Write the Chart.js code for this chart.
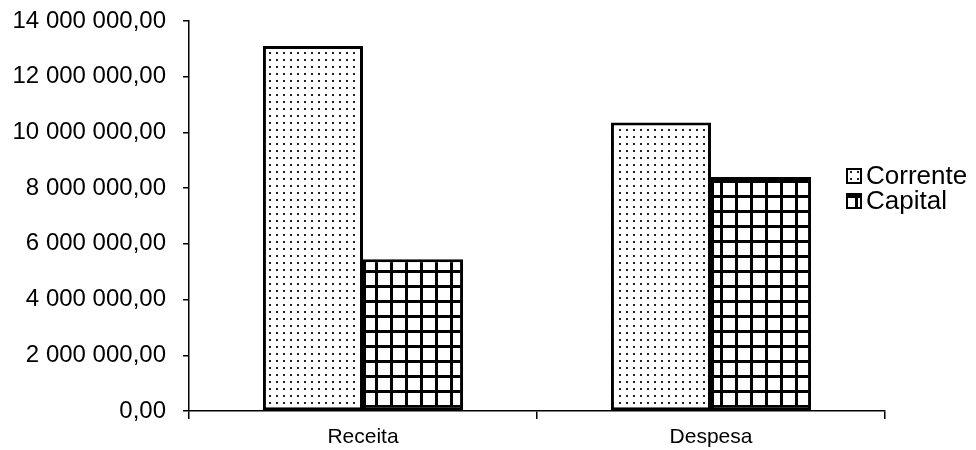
<!DOCTYPE html>
<html><head><meta charset="utf-8">
<script src="https://cdn.jsdelivr.net/npm/chart.js@4"></script>
<style>html,body{margin:0;padding:0;background:#fff;}#wrap{width:976px;height:450px;position:relative;}</style>
</head><body><div id="wrap"><canvas id="c" width="976" height="450"></canvas></div>
<script>
const categories = ["Receita", "Despesa"];
const seriesNames = ["Corrente", "Capital"];
const correnteValues = [13100000, 10360000];
const capitalValues = [5450000, 8400000];
const yTicks = [0, 2000000, 4000000, 6000000, 8000000, 10000000, 12000000, 14000000];

function dotPattern() {
  const c = document.createElement('canvas'); c.width = 7; c.height = 7;
  const x = c.getContext('2d');
  x.fillStyle = '#fff'; x.fillRect(0,0,7,7);
  x.fillStyle = '#222'; x.fillRect(3,3,2,2);
  return x.createPattern(c, 'repeat');
}
function gridPattern() {
  const c = document.createElement('canvas'); c.width = 15; c.height = 15;
  const x = c.getContext('2d');
  x.fillStyle = '#fff'; x.fillRect(0,0,15,15);
  x.fillStyle = '#000'; x.fillRect(0,0,3,15); x.fillRect(0,0,15,3);
  return x.createPattern(c, 'repeat');
}
function fmt(v) {
  const s = Math.round(v).toString().replace(/\B(?=(\d{3})+(?!\d))/g, ' ');
  return s + ',00';
}
const FONT = "'Liberation Sans', Arial, sans-serif";

const legendPlugin = {
  id: 'sideLegend',
  afterDraw(chart) {
    const ctx = chart.ctx;
    ctx.save();
    chart.data.datasets.forEach((ds, i) => {
      const y = 176 + i * 25;
      ctx.fillStyle = ds.backgroundColor;
      ctx.fillRect(847, y - 7, 14, 14);
      ctx.lineWidth = 2; ctx.strokeStyle = '#000';
      ctx.strokeRect(847, y - 7, 14, 14);
      ctx.fillStyle = '#000';
      ctx.font = "26px " + FONT;
      ctx.textBaseline = 'middle';
      ctx.fillText(ds.label, 866, y + 1);
    });
    ctx.restore();
  }
};

new Chart(document.getElementById('c'), {
  type: 'bar',
  data: {
    labels: categories,
    datasets: [
      { label: seriesNames[0], data: correnteValues, backgroundColor: dotPattern(), borderColor: '#000', borderWidth: 3, borderSkipped: false, categoryPercentage: 0.575, barPercentage: 1 },
      { label: seriesNames[1], data: capitalValues, backgroundColor: gridPattern(), borderColor: '#000', borderWidth: 3, borderSkipped: false, categoryPercentage: 0.575, barPercentage: 1 }
    ]
  },
  options: {
    responsive: false,
    animation: false,
    layout: { autoPadding: false, padding: { top: 21, right: 91, left: 0, bottom: 0 } },
    plugins: { legend: { display: false }, tooltip: { enabled: false } },
    scales: {
      x: {
        afterFit(s) { s.height = 39; s.paddingLeft = 0; s.paddingRight = 0; },
        grid: { offset: true, drawOnChartArea: false, color: '#000', tickLength: 8, lineWidth: 1.5 },
        border: { color: '#000', width: 1.5 },
        ticks: { color: '#000', font: { family: FONT, size: 21 }, padding: 6 }
      },
      y: {
        min: 0, max: 14000000,
        afterFit(s) { s.width = 189; s.paddingTop = 0; s.paddingBottom = 0; },
        afterBuildTicks(s) { s.ticks = yTicks.map(v => ({ value: v })); },
        grid: { drawOnChartArea: false, color: '#000', tickLength: 6, lineWidth: 1.5 },
        border: { color: '#000', width: 1.5 },
        ticks: { color: '#000', font: { family: FONT, size: 24 }, padding: 17, callback: v => fmt(v) }
      }
    }
  },
  plugins: [legendPlugin]
});
</script></body></html>
